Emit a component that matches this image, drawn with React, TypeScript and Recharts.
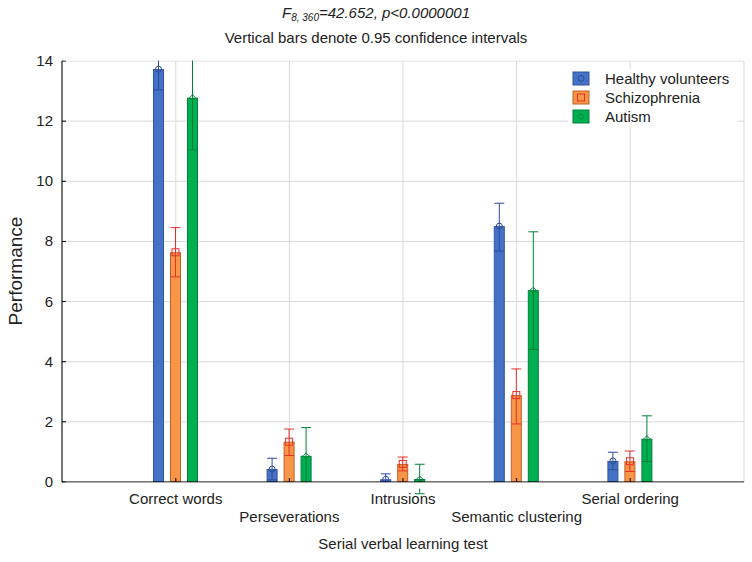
import React from 'react';
import { BarChart, Bar, XAxis, YAxis, CartesianGrid, ErrorBar } from 'recharts';

const categories = ['Correct words', 'Perseverations', 'Intrusions', 'Semantic clustering', 'Serial ordering'];
const yTicks = [0, 2, 4, 6, 8, 10, 12, 14];

const healthy = [13.73, 0.43, 0.09, 8.51, 0.7];
const healthyLow = [13.04, 0.07, -0.09, 7.68, 0.41];
const healthyHigh = [14.42, 0.79, 0.27, 9.27, 0.99];

const schizo = [7.64, 1.34, 0.6, 2.89, 0.69];
const schizoLow = [6.82, 0.88, 0.37, 1.93, 0.35];
const schizoHigh = [8.46, 1.76, 0.83, 3.76, 1.03];

const autism = [12.78, 0.87, 0.1, 6.38, 1.44];
const autismLow = [11.04, -0.07, -0.39, 4.41, 0.68];
const autismHigh = [14.52, 1.81, 0.59, 8.32, 2.2];

const seriesNames = ['Healthy volunteers', 'Schizophrenia', 'Autism'];

const data = categories.map((c, i) => ({
  name: c,
  hv: healthy[i],
  hvErr: [healthy[i] - healthyLow[i], healthyHigh[i] - healthy[i]],
  sz: schizo[i],
  szErr: [schizo[i] - schizoLow[i], schizoHigh[i] - schizo[i]],
  au: autism[i],
  auErr: [autism[i] - autismLow[i], autismHigh[i] - autism[i]],
}));

const FONT = '"Liberation Sans", Arial, sans-serif';

const COLORS = {
  hv: { fill: '#4472C4', stroke: '#2F55A0', err: '#2E4A9A' },
  sz: { fill: '#F79646', stroke: '#C0602A', err: '#E8302A' },
  au: { fill: '#00B050', stroke: '#00803A', err: '#00803A' },
};

const Marker = ({ kind, cx, cy, color }: any) => {
  if (kind === 'circle') return <circle cx={cx} cy={cy} r={3} fill="none" stroke={color} strokeWidth={1} />;
  if (kind === 'square') return <rect x={cx - 3.5} y={cy - 3.5} width={7} height={7} fill="none" stroke={color} strokeWidth={1} />;
  return <path d={`M${cx},${cy - 3} L${cx + 3},${cy} L${cx},${cy + 3} L${cx - 3},${cy} Z`} fill="none" stroke={color} strokeWidth={1} />;
};

const makeShape = (kind: string, c: any) => (props: any) => {
  const { x, y, width, height } = props;
  if (width == null || height == null) return null;
  return (
    <g>
      <rect x={x + 0.5} y={y + 0.5} width={Math.max(width - 1, 0)} height={Math.max(height - 1, 0)} fill={c.fill} stroke={c.stroke} strokeWidth={1} />
      <Marker kind={kind} cx={x + width / 2} cy={y} color={c.err} />
    </g>
  );
};

const BottomTick = (props: any) => {
  const { x, y, payload, index } = props;
  const dy = index % 2 === 0 ? 22 : 40;
  return (
    <g>
      <line x1={x} y1={y} x2={x} y2={y - 4} stroke="#000" />
      <text x={x} y={y + dy} textAnchor="middle" fontSize={15} fontFamily={FONT} fill="#222">
        {payload.value}
      </text>
    </g>
  );
};

const TopTick = (props: any) => {
  const { x, y } = props;
  return <line x1={x} y1={y} x2={x} y2={y + 4} stroke="#000" />;
};

const LeftTick = (props: any) => {
  const { x, y, payload } = props;
  return (
    <g>
      <line x1={x} y1={y} x2={x + 4} y2={y} stroke="#000" />
      <text x={x - 9} y={y + 5} textAnchor="end" fontSize={15} fontFamily={FONT} fill="#222">
        {payload.value}
      </text>
    </g>
  );
};

const legendKinds = ['circle', 'square', 'diamond'];
const legendColors = [COLORS.hv, COLORS.sz, COLORS.au];

export default function App() {
  return (
    <div style={{ position: 'absolute', left: 0, top: 0, width: 752, height: 562, background: '#fff', fontFamily: FONT }}>
      <BarChart
        width={752}
        height={562}
        data={data}
        margin={{ top: 61, right: 8, bottom: 0, left: 0 }}
        barSize={11}
        barGap={6}
      >
        <CartesianGrid stroke="#d9d9d9" strokeWidth={1} />
        <XAxis
          dataKey="name"
          height={80}
          padding={{ left: 57, right: 57 }}
          axisLine={{ stroke: '#000' }}
          tickLine={false}
          tickSize={0}
          tickMargin={0}
          tick={<BottomTick />}
          interval={0}
        />
        <XAxis
          xAxisId="top"
          orientation="top"
          dataKey="name"
          height={0}
          padding={{ left: 57, right: 57 }}
          axisLine={{ stroke: '#000' }}
          tickLine={false}
          tickSize={0}
          tick={<TopTick />}
          interval={0}
        />
        <YAxis
          width={62}
          domain={[0, 14]}
          ticks={yTicks}
          allowDataOverflow
          axisLine={{ stroke: '#000' }}
          tickLine={false}
          tickSize={0}
          tickMargin={0}
          tick={<LeftTick />}
          interval={0}
        />
        <YAxis
          yAxisId="right"
          orientation="right"
          width={0}
          domain={[0, 14]}
          axisLine={{ stroke: '#000' }}
          tick={false}
          tickLine={false}
        />
        <Bar dataKey="hv" isAnimationActive={false} shape={makeShape('circle', COLORS.hv)}>
          <ErrorBar dataKey="hvErr" width={5} stroke={COLORS.hv.err} strokeWidth={1} direction="y" isAnimationActive={false} />
        </Bar>
        <Bar dataKey="sz" isAnimationActive={false} shape={makeShape('square', COLORS.sz)}>
          <ErrorBar dataKey="szErr" width={5} stroke={COLORS.sz.err} strokeWidth={1} direction="y" isAnimationActive={false} />
        </Bar>
        <Bar dataKey="au" isAnimationActive={false} shape={makeShape('diamond', COLORS.au)}>
          <ErrorBar dataKey="auErr" width={5} stroke={COLORS.au.err} strokeWidth={1} direction="y" isAnimationActive={false} />
        </Bar>
      </BarChart>

      <svg width={752} height={562} style={{ position: 'absolute', left: 0, top: 0, pointerEvents: 'none' }}>
        {/* masks hiding whiskers that run past the plot frame */}
        <rect x={63} y={0} width={682} height={60.5} fill="#fff" />
        <rect x={63} y={482.6} width={682} height={6} fill="#fff" />
        <text x={376} y={18} textAnchor="middle" fontSize={15} fontStyle="italic" fontFamily={FONT} fill="#222">
          <tspan>F</tspan>
          <tspan fontSize={10} dy={3}>8, 360</tspan>
          <tspan dy={-3}>=42.652, p&lt;0.0000001</tspan>
        </text>
        <text x={376} y={43} textAnchor="middle" fontSize={15} fontFamily={FONT} fill="#222">
          Vertical bars denote 0.95 confidence intervals
        </text>
        <text
          x={22}
          y={271}
          textAnchor="middle"
          fontSize={19}
          fontFamily={FONT}
          fill="#222"
          transform="rotate(-90 22 271)"
        >
          Performance
        </text>
        <text x={403} y={549} textAnchor="middle" fontSize={15} fontFamily={FONT} fill="#222">
          Serial verbal learning test
        </text>
        <rect x={568} y={69} width={170} height={57} fill="#fff" />
        {seriesNames.map((n, i) => (
          <g key={n}>
            <rect x={573} y={72 + i * 19} width={16} height={13} fill={legendColors[i].fill} stroke={legendColors[i].stroke} />
            <Marker kind={legendKinds[i]} cx={581} cy={78.5 + i * 19} color={legendColors[i].err} />
            <text x={605} y={84 + i * 19} fontSize={15} fontFamily={FONT} fill="#222">
              {n}
            </text>
          </g>
        ))}
      </svg>
    </div>
  );
}
